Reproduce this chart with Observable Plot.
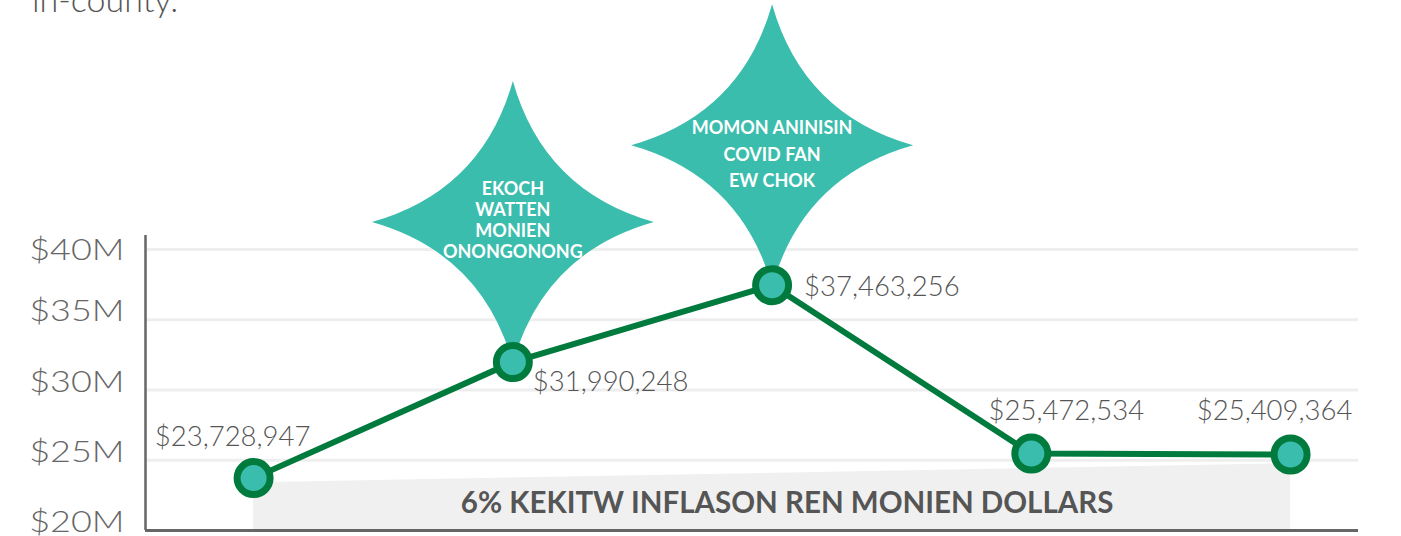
<!DOCTYPE html>
<html><head><meta charset="utf-8">
<script src="https://cdn.jsdelivr.net/npm/d3@7"></script>
<script src="https://cdn.jsdelivr.net/npm/@observablehq/plot@0.6"></script>
<style>
body{margin:0;background:#fff;width:1401px;height:536px;overflow:hidden;position:relative;font-family:Lato,sans-serif}
#lead{position:absolute;left:32px;top:-21px;font:300 34px/1.2 Lato;color:#555;white-space:nowrap}
#chart{position:absolute;left:0;top:0}
#chart svg{overflow:visible}
</style></head><body>
<div id="chart"></div>
<div id="lead">in-county.</div>
<script>
// ---- data ----
const periods = [0, 1, 2, 3, 4];
const amounts = [23728947, 31990248, 37463256, 25472534, 25409364];
const amountLabels = ["$23,728,947", "$31,990,248", "$37,463,256", "$25,472,534", "$25,409,364"];
const yTicks = [20e6, 25e6, 30e6, 35e6, 40e6];
const yTickLabels = ["$20M", "$25M", "$30M", "$35M", "$40M"];
const calloutPeriods = [1, 2];
const calloutTexts = ["EKOCH\nWATTEN\nMONIEN\nONONGONONG", "MOMON ANINISIN\nCOVID FAN\nEW CHOK"];
const inflationPeriods = [0, 4];
const inflationAmounts = [23400000, 24750000];
const inflationLabel = "6% KEKITW INFLASON REN MONIEN DOLLARS";

// ---- derived tables ----
const rows = periods.map((p, i) => ({period: p, amount: amounts[i], label: amountLabels[i], i}));
const callouts = calloutPeriods.map((p, i) => ({period: p, amount: amounts[periods.indexOf(p)], text: calloutTexts[i], i}));
const inflationRows = inflationPeriods.map((p, i) => ({period: p, amount: inflationAmounts[i]}));
const tickLabel = new Map(yTicks.map((t, i) => [t, yTickLabels[i]]));
const xDomain = [-0.417, 4.262];
const yDomain = [20e6, 41e6];
const topTick = d3.max(yTicks);

const teal = "#3bbdad", green = "#007a3d", grey = "#555";

const star = {
  draw(ctx, size) {
    const r = Math.sqrt(size / Math.PI), k = 0.22 * r;
    ctx.moveTo(0, -r);
    ctx.quadraticCurveTo(k, -k, r, 0);
    ctx.quadraticCurveTo(k, k, 0, r);
    ctx.quadraticCurveTo(-k, k, -r, 0);
    ctx.quadraticCurveTo(-k, -k, 0, -r);
    ctx.closePath();
  }
};

const valueText = {x: "period", y: "amount", text: "label", fontSize: 27.5, fontWeight: 300, fill: grey, fontFamily: "Lato"};
const axisOpts = {tickSize: 0, tickPadding: 21, tickFormat: d => tickLabel.get(d), label: null,
  fontSize: 30, fontWeight: 300, fill: "#666"};

const chart = Plot.plot({
  width: 1401, height: 536,
  marginLeft: 145, marginRight: 43, marginTop: 235, marginBottom: 6,
  x: {domain: xDomain, axis: null},
  y: {domain: yDomain, axis: null},
  style: {fontFamily: "Lato", background: "transparent"},
  marks: [
    Plot.ruleY(yTicks.filter(t => t > yDomain[0]), {stroke: "#eeeeee", strokeWidth: 3}),
    Plot.areaY(inflationRows, {x: "period", y1: yDomain[0], y2: "amount", fill: "#f0f0f0"}),
    Plot.text([{period: d3.mean(inflationPeriods), amount: yDomain[0], label: inflationLabel}],
      {x: "period", y: "amount", text: "label", dx: 15, dy: -27, fontSize: 29.5, fontWeight: 700, fill: grey, fontFamily: "Lato"}),
    Plot.ruleX([xDomain[0]], {stroke: "#666", strokeWidth: 2.5}),
    Plot.ruleY([yDomain[0]], {stroke: "#666", strokeWidth: 3}),
    Plot.axisY(yTicks.filter(t => t < topTick), {...axisOpts, dy: -8}),
    Plot.axisY([topTick], {...axisOpts, dy: 1}),
    Plot.dot(callouts, {x: "period", y: "amount", symbol: star, r: 141, dy: -140, fill: teal, stroke: "none"}),
    Plot.text(callouts.filter(d => d.i === 0), {x: "period", y: "amount", text: "text", dy: -142, lineHeight: 1.17,
      fontSize: 18, fontWeight: 700, fill: "white", fontFamily: "Lato"}),
    Plot.text(callouts.filter(d => d.i === 1), {x: "period", y: "amount", text: "text", dy: -133, lineHeight: 1.47,
      fontSize: 18, fontWeight: 700, fill: "white", fontFamily: "Lato"}),
    Plot.line(rows, {x: "period", y: "amount", stroke: green, strokeWidth: 6}),
    Plot.dot(rows, {x: "period", y: "amount", r: 16.5, fill: teal, stroke: green, strokeWidth: 7}),
    Plot.text(rows.filter(d => d.i === 0), {...valueText, dx: -21, dy: -41}),
    Plot.text(rows.filter(d => d.i === 1), {...valueText, textAnchor: "start", dx: 20, dy: 20}),
    Plot.text(rows.filter(d => d.i === 2), {...valueText, textAnchor: "start", dx: 32, dy: 2}),
    Plot.text(rows.filter(d => d.i === 3), {...valueText, dx: 35, dy: -42}),
    Plot.text(rows.filter(d => d.i === 4), {...valueText, dx: -16, dy: -43})
  ]
});
document.getElementById("chart").appendChild(chart);

// widen the tick-label glyphs horizontally (the original uses a wide light face)
d3.select(chart).selectAll('g[aria-label="y-axis tick label"] text').each(function () {
  const w = this.getComputedTextLength();
  if (w > 0) {
    this.setAttribute("textLength", (w * 1.2).toFixed(1));
    this.setAttribute("lengthAdjust", "spacingAndGlyphs");
  }
});
</script>
</body></html>
